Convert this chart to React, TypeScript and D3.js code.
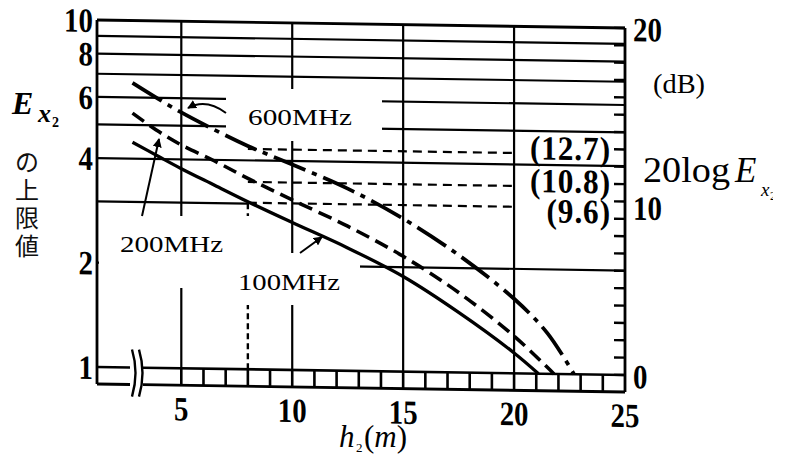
import React, { useEffect, useRef } from 'react';
import * as d3 from 'd3';

// 横軸 h2 (m)、縦軸 E_x2 (対数) と 20logE_x2 (dB)
const gridLevels = [1, 2, 3, 4, 5, 6, 7, 8, 9, 10];
const leftTickValues = [1, 2, 4, 6, 8, 10];
const xGridValues = [5, 10, 15, 20];
const xTickValues = [5, 10, 15, 20, 25];
const stripValues = [5, 6, 7, 8, 9, 10, 11, 12, 13, 14, 15, 16, 17, 18, 19, 20, 21, 22, 23, 24];
const dbTickValues = [0, 10, 20];
const dbMinorValues = [0, 1, 2, 3, 4, 5, 6, 7, 8, 9, 10, 11, 12, 13, 14, 15, 16, 17, 18, 19, 20];
const refDb = [12.7, 10.8, 9.6];
const refDbLabels = ['(12.7)', '(10.8)', '(9.6)'];
const refStartH = 8;
const refEndH = 20;

// 100MHz (実線)
const h100 = [2.8, 4, 5, 6.5, 8, 10, 12.5, 15, 17.5, 20, 21.1];
const e100 = [4.46, 4.06, 3.76, 3.38, 3.04, 2.66, 2.26, 1.88, 1.49, 1.145, 1.0];
// 200MHz (破線)
const h200 = [2.8, 4, 5, 6.5, 8, 10, 12.5, 15, 17.5, 20, 21.8];
const e200 = [5.41, 4.79, 4.4, 3.97, 3.55, 3.09, 2.61, 2.15, 1.7, 1.28, 1.0];
// 600MHz (一点鎖線)
const h600 = [2.8, 4, 5, 6.5, 8, 10, 12.5, 15, 17.5, 20, 21.5, 22.7];
const e600 = [6.61, 5.94, 5.46, 4.88, 4.4, 3.91, 3.35, 2.76, 2.18, 1.64, 1.31, 1.0];

const W = 787, H = 454;
const SERIF = '"Liberation Serif", "Times New Roman", serif';

function App() {
  const ref = useRef<SVGSVGElement>(null);

  useEffect(() => {
    const svg = d3.select(ref.current);
    svg.selectAll('*').remove();

    const left = 97, right = 625, top = 24, base = 371, bottom = 388;
    const breakL = 130, breakR = 143;

    const x = d3.scaleLinear().domain([1.2, 25]).range([left, right]);
    const y = d3.scaleLog().domain([1, 10]).range([base, top]);
    const yDb = d3.scaleLinear().domain([0, 20]).range([base, top]);

    // 原図のわずかな傾き
    const skew = `translate(361,0) skewY(0.87) translate(-361,0)`;

    const defs = svg.append('defs');
    defs.append('marker')
      .attr('id', 'arr')
      .attr('viewBox', '0 0 10 10')
      .attr('refX', 9).attr('refY', 5)
      .attr('markerWidth', 9).attr('markerHeight', 9)
      .attr('markerUnits', 'userSpaceOnUse')
      .attr('orient', 'auto')
      .append('path').attr('d', 'M0,0 L10,5 L0,10 z').attr('fill', '#000');
    defs.append('clipPath').attr('id', 'clipR')
      .append('rect').attr('x', 0).attr('y', 0).attr('width', 773).attr('height', H);

    svg.append('rect').attr('width', W).attr('height', H).attr('fill', '#fff');

    const g = svg.append('g').attr('transform', skew);

    const hline = (x1: number, x2: number, yy: number, w = 2.2, dash?: string) => {
      const l = g.append('line')
        .attr('x1', x1).attr('x2', x2).attr('y1', yy).attr('y2', yy)
        .attr('stroke', '#000').attr('stroke-width', w);
      if (dash) l.attr('stroke-dasharray', dash);
    };
    const vline = (xx: number, y1: number, y2: number, w = 2.2, dash?: string) => {
      const l = g.append('line')
        .attr('x1', xx).attr('x2', xx).attr('y1', y1).attr('y2', y2)
        .attr('stroke', '#000').attr('stroke-width', w);
      if (dash) l.attr('stroke-dasharray', dash);
    };

    // 横の格子
    gridLevels.forEach(v => {
      if (v === 1) {
        hline(left, breakL, y(v), 2.6);
        hline(breakR, right, y(v), 2.6);
      } else if (v === 3) {
        hline(left, x(refStartH), y(v));
      } else if (v === 10) {
        hline(left, right, y(v), 2.8);
      } else {
        hline(left, right, y(v));
      }
    });

    // 縦の格子
    xGridValues.forEach(v => vline(x(v), y(1), y(10)));
    const i8 = h100.indexOf(refStartH);
    vline(x(refStartH), y(1), y(e100[i8]), 2.4, '6 4');

    // 下の目盛り帯
    stripValues.forEach(v => vline(x(v), y(1), bottom, 2.6));
    hline(left, breakL, bottom, 2.8);
    hline(breakR, right, bottom, 2.8);
    [breakL + 2, breakR - 4].forEach(bx => {
      g.append('path')
        .attr('d', `M${bx},${base - 18} Q${bx + 7},${base + 5} ${bx},${bottom + 12}`)
        .attr('fill', 'none').attr('stroke', '#000').attr('stroke-width', 2.4);
    });

    // 枠
    vline(left, top, bottom, 2.8);
    vline(right, top, bottom, 2.8);

    // 右の dB 目盛り
    dbMinorValues.forEach(d => hline(right - 11, right, yDb(d), 2.4));

    const condensed = (xx: number, yy: number, text: string, anchor: string) => {
      g.append('g')
        .attr('transform', `translate(${xx},${yy}) scale(0.85,1)`)
        .append('text')
        .attr('text-anchor', anchor)
        .attr('font-family', SERIF)
        .attr('font-weight', 'bold')
        .attr('font-size', 34)
        .text(text);
    };

    leftTickValues.forEach(v => condensed(left - 4, y(v) + 12, String(v), 'end'));
    xTickValues.forEach(v => condensed(x(v), bottom + 35, String(v), 'middle'));
    dbTickValues.forEach(d => condensed(right + 8, yDb(d) + (d === 10 ? 18 : 13), String(d), 'start'));

    // 上限値の破線と (dB) 値
    let prevBase = -Infinity;
    refDb.forEach((d, i) => {
      const yy = y(Math.pow(10, d / 20));
      hline(x(refStartH), x(refEndH), yy, 2.2, '9 6');
      const b = Math.max(yDb(d) + 6, prevBase + 30);
      prevBase = b;
      g.append('g')
        .attr('transform', `translate(${right - 14},${b}) scale(0.92,1)`)
        .append('text')
        .attr('text-anchor', 'end')
        .attr('font-family', SERIF)
        .attr('font-weight', 'bold')
        .attr('font-size', 34)
        .attr('letter-spacing', 1)
        .text(refDbLabels[i]);
    });

    // ラベルの白抜き
    const boxes = [
      { x: 226, y: 89, w: 156, h: 52 },
      { x: 99, y: 216, w: 188, h: 72 },
      { x: 235, y: 253, w: 125, h: 52 },
    ];
    svg.append('g').selectAll('rect').data(boxes).join('rect')
      .attr('x', d => d.x).attr('y', d => d.y)
      .attr('width', d => d.w).attr('height', d => d.h)
      .attr('fill', '#fff');

    // 曲線
    const gc = svg.append('g').attr('transform', skew);
    const line = d3.line<[number, number]>()
      .x(d => x(d[0])).y(d => y(d[1]))
      .curve(d3.curveCatmullRom.alpha(0.5));
    const series = [
      { h: h100, e: e100, dash: null, w: 3.3 },
      { h: h200, e: e200, dash: '14 7', w: 3.6 },
      { h: h600, e: e600, dash: '34 7 5 7', w: 3.8 },
    ];
    series.forEach(s => {
      const p = gc.append('path')
        .datum(s.h.map((h, i) => [h, s.e[i]] as [number, number]))
        .attr('d', line)
        .attr('fill', 'none')
        .attr('stroke', '#000')
        .attr('stroke-width', s.w);
      if (s.dash) p.attr('stroke-dasharray', s.dash);
    });

    // 矢印
    const ov = svg.append('g');
    ov.append('path').attr('d', 'M226,113 Q206,98 188,108')
      .attr('fill', 'none').attr('stroke', '#000').attr('stroke-width', 2)
      .attr('marker-end', 'url(#arr)');
    ov.append('path').attr('d', 'M142,216 L159,139')
      .attr('fill', 'none').attr('stroke', '#000').attr('stroke-width', 2)
      .attr('marker-end', 'url(#arr)');
    ov.append('path').attr('d', 'M300,253 L322,237')
      .attr('fill', 'none').attr('stroke', '#000').attr('stroke-width', 2)
      .attr('marker-end', 'url(#arr)');

    const label = (xx: number, yy: number, text: string, size: number, len?: number) => {
      const t = ov.append('text')
        .attr('x', xx).attr('y', yy)
        .attr('font-family', SERIF)
        .attr('font-size', size)
        .text(text);
      if (len) t.attr('textLength', len).attr('lengthAdjust', 'spacingAndGlyphs');
      return t;
    };
    label(248, 125, '600MHz', 24, 104);
    label(120, 252, '200MHz', 24, 103);
    label(238, 290, '100MHz', 24, 102);
    label(653, 93, '(dB)', 27, 52);

    // 20logE_x2
    const rt = ov.append('g').attr('clip-path', 'url(#clipR)');
    rt.append('text').attr('x', 643).attr('y', 182)
      .attr('font-family', SERIF).attr('font-size', 35)
      .attr('textLength', 87).attr('lengthAdjust', 'spacingAndGlyphs')
      .text('20log');
    rt.append('text').attr('x', 735).attr('y', 182)
      .attr('font-family', SERIF).attr('font-size', 35).attr('font-style', 'italic')
      .text('E');
    rt.append('text').attr('x', 761).attr('y', 196)
      .attr('font-family', SERIF).attr('font-size', 19).attr('font-style', 'italic')
      .text('x');
    rt.append('text').attr('x', 770).attr('y', 200)
      .attr('font-family', SERIF).attr('font-size', 12)
      .text('2');

    // h2(m)
    ov.append('text').attr('x', 339).attr('y', 447)
      .attr('font-family', SERIF).attr('font-size', 31).attr('font-style', 'italic')
      .text('h');
    ov.append('text').attr('x', 356).attr('y', 452)
      .attr('font-family', SERIF).attr('font-size', 13)
      .text('2');
    const hm = ov.append('text').attr('x', 364).attr('y', 447)
      .attr('font-family', SERIF).attr('font-size', 31);
    hm.append('tspan').text('(');
    hm.append('tspan').attr('font-style', 'italic').text('m');
    hm.append('tspan').text(')');

    // E_x2 の上限値
    ov.append('text').attr('x', 12).attr('y', 114)
      .attr('font-family', SERIF).attr('font-size', 32)
      .attr('font-weight', 'bold').attr('font-style', 'italic')
      .text('E');
    ov.append('text').attr('x', 38).attr('y', 122)
      .attr('font-family', SERIF).attr('font-size', 26)
      .attr('font-weight', 'bold').attr('font-style', 'italic')
      .text('x');
    ov.append('text').attr('x', 52).attr('y', 127)
      .attr('font-family', SERIF).attr('font-size', 14)
      .attr('font-weight', 'bold')
      .text('2');
    const jp = ['の', '上', '限', '値'];
    jp.forEach((c, i) => {
      ov.append('text')
        .attr('x', 27).attr('y', 171 + i * 28)
        .attr('text-anchor', 'middle')
        .attr('font-family', '"Noto Sans CJK JP", sans-serif')
        .attr('font-size', 24)
        .attr('fill', '#111')
        .text(c);
    });
  }, []);

  return (
    <svg
      ref={ref}
      width={W}
      height={H}
      style={{ position: 'absolute', left: 0, top: 0, display: 'block' }}
    />
  );
}

export default App;
